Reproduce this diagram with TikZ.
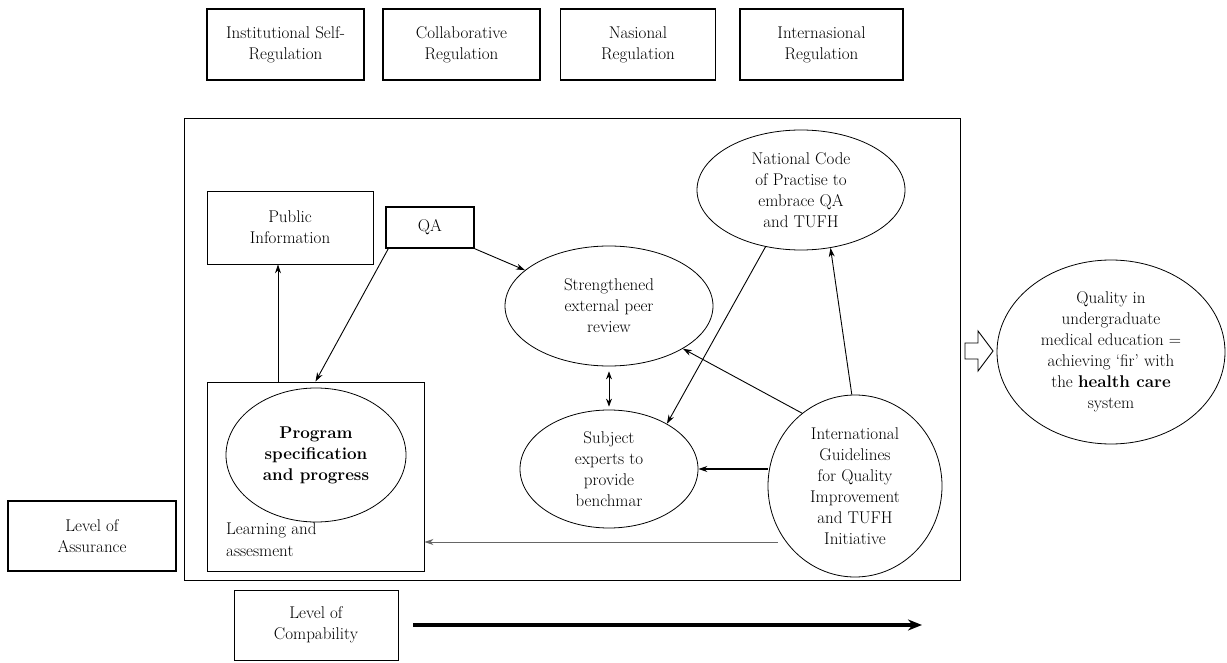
\documentclass[tikz,border=0pt]{standalone}
\usetikzlibrary{shapes.geometric,arrows.meta}
\begin{document}
\begin{tikzpicture}[x=1pt,y=-1pt,
  txt/.style={font=\fontsize{17}{21}\selectfont, align=center},
  topbox/.style={draw, line width=1.4pt, txt, inner sep=0pt},
  thinbox/.style={draw, line width=0.8pt, txt, inner sep=0pt},
  ell/.style={draw, ellipse, line width=0.8pt, txt, inner sep=0pt},
  arr/.style={-{Stealth[length=9pt,width=6pt]}, line width=0.9pt},
]
\useasboundingbox (0,0) rectangle (1227,663);
% top boxes
\node[topbox, minimum width=157, minimum height=71] (isr) at (285.5,44.5) {Institutional Self-\\Regulation};
\node[topbox, minimum width=157, minimum height=71] (col) at (461.5,44.5) {Collaborative\\Regulation};
\node[topbox, minimum width=155, minimum height=71] (nas) at (638,44.5) {Nasional\\Regulation};
\node[topbox, minimum width=163, minimum height=71] (ins) at (821.5,44.5) {Internasional\\Regulation};
% big frame
\node[draw, line width=0.9pt, minimum width=776, minimum height=462, inner sep=0pt] (frame) at (572,349) {};
% inner nodes
\node[thinbox, minimum width=166, minimum height=73] (pub) at (290,227.5) {Public\\Information};
\node[topbox, minimum width=88, minimum height=41] (qa) at (430,227.5) {QA};
\node[ell, minimum width=208, minimum height=120] (str) at (609,306) {Strengthened\\external peer\\review};
\node[ell, minimum width=208, minimum height=120] (nat) at (801,190) {National Code\\of Practise to\\embrace QA\\and TUFH};
\node[ell, minimum width=178, minimum height=118] (sub) at (609,469) {Subject\\experts to\\provide\\benchmar};
\node[ell, minimum width=174, minimum height=182] (int) at (855,486) {International\\Guidelines\\for Quality\\Improvement\\and TUFH\\Initiative};
\node[draw, line width=0.9pt, minimum width=217, minimum height=189, inner sep=0pt] (learn) at (315.5,476.5) {};
\node[ell, minimum width=180, minimum height=134] (prog) at (316,455) {\bfseries Program\\\bfseries specification\\\bfseries and progress};
\node[txt, align=left, anchor=north west, inner sep=0pt] (lat) at (226,523) {Learning and\\assesment};
% outside nodes
\node[topbox, minimum width=168, minimum height=70] (loa) at (92,536) {Level of\\Assurance};
\node[thinbox, minimum width=164, minimum height=70] (loc) at (316,625) {Level of\\Compability};
\node[ell, minimum width=228, minimum height=184] (qual) at (1111,352) {Quality in\\undergraduate\\medical education =\\achieving `fir' with\\the \textbf{health care}\\system};
% connectors
\draw[arr] ([xshift=-37.5]learn.north) -- ([xshift=-37.5]learn.north |- pub.south);
\draw[arr] ([xshift=3]qa.south west) -- (learn.north);
\draw[arr] (qa.south east) -- (str);
\draw[arr] (nat.238) -- (sub.38);
\draw[{Stealth[length=8pt,width=6pt]}-{Stealth[length=8pt,width=6pt]}, line width=0.9pt, shorten <=5pt, shorten >=3pt] (str.south) -- (sub.north);
\draw[arr] (int.126) -- (str.330);
\draw[arr] (int.92) -- (nat.297);
\draw[arr, line width=1.1pt] (int.west |- sub.east) -- (sub.east);
\draw[arr, gray!80!black] ([xshift=10,yshift=-56]int.west) -- ([yshift=-56]int.west -| learn.east);
% thick arrow
\coordinate (arrend) at (922,625);
\draw[-{Stealth[length=14pt,width=11pt]}, line width=3.2pt] ([xshift=15]loc.east) -- (arrend);
% hollow arrow
\draw[line width=0.9pt, line join=miter] (965,343) -- (978,343) -- (978,331) -- (993,351) -- (978,371) -- (978,359) -- (965,359) -- cycle;
\end{tikzpicture}
\end{document}
